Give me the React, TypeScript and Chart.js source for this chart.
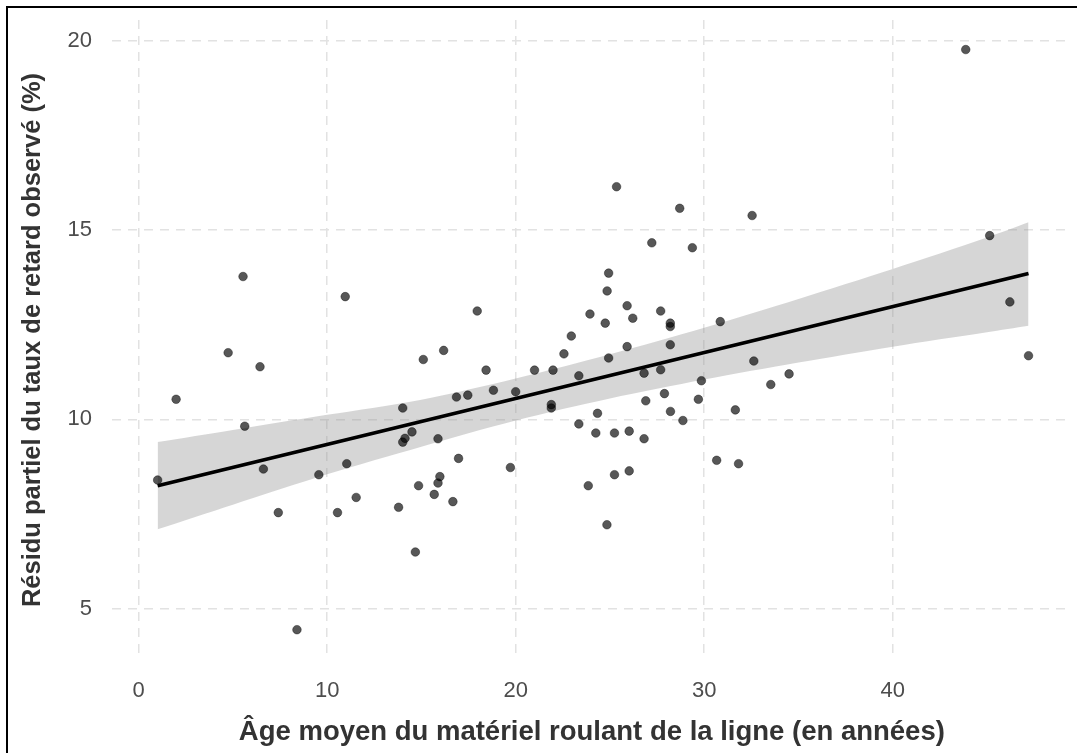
import React, { useEffect, useRef } from 'react';
import { Chart, registerables } from 'chart.js';

Chart.register(...registerables);

// Points: mean rolling-stock age (years) vs partial residual of delay rate (%)
const ageX = [
  1.01, 1.99, 4.75, 5.54, 5.63, 6.44, 6.62, 7.41, 8.4, 9.56,
  10.55, 10.96, 11.04, 11.54, 13.79, 14.01, 14.13, 14.01, 14.5, 14.68,
  14.85, 15.1, 15.68, 15.88, 15.98, 15.88, 16.18, 16.67, 16.86, 16.97,
  17.46, 17.96, 18.43, 18.82, 19.72, 20.0, 21.0, 21.89, 21.89, 21.98,
  22.56, 22.95, 23.35, 23.35, 23.85, 23.94, 24.25, 24.34, 24.75, 24.84,
  24.85, 24.93, 24.93, 25.24, 25.24, 25.35, 25.91, 25.91, 26.02, 26.02,
  26.21, 26.81, 26.81, 26.9, 27.22, 27.69, 27.69, 27.89, 28.2, 28.2,
  28.2, 28.21, 28.7, 28.87, 29.37, 29.69, 29.85, 30.66, 30.85, 31.65,
  31.82, 32.54, 32.63, 33.53, 34.5, 43.87, 45.14, 46.21, 47.2,
];
const residY = [
  8.4, 10.53, 11.76, 13.77, 9.82, 11.39, 8.69, 7.54, 4.45, 8.54,
  7.54, 13.24, 8.83, 7.94, 7.68, 10.3, 9.5, 9.4, 9.67, 6.5,
  8.25, 11.58, 8.02, 9.49, 8.49, 8.32, 11.82, 7.83, 10.59, 8.97,
  10.64, 12.86, 11.3, 10.77, 8.73, 10.73, 11.3, 10.39, 10.3, 11.3,
  11.73, 12.2, 11.15, 9.88, 8.25, 12.78, 9.64, 10.16, 12.54, 7.22,
  13.39, 13.86, 11.62, 9.64, 8.54, 16.14, 13.0, 11.92, 9.69, 8.64,
  12.67, 11.22, 9.49, 10.49, 14.66, 12.86, 11.31, 10.68, 12.54, 12.45,
  11.97, 10.21, 15.57, 9.97, 14.53, 10.53, 11.02, 8.92, 12.58, 10.25,
  8.83, 15.38, 11.54, 10.92, 11.2, 19.76, 14.85, 13.1, 11.68,
];

// Linear fit (read at both ends) and its confidence band
const fitX = [1.01, 47.2];
const fitY = [8.25, 13.85];
const bandX = [1.01, 5, 10, 15, 20, 25, 30, 35, 40, 45, 47.2];
const bandUpper = [9.4, 9.72, 10.12, 10.52, 11.08, 11.72, 12.42, 13.18, 13.97, 14.8, 15.2];
const bandLower = [7.1, 7.75, 8.55, 9.28, 9.97, 10.55, 11.05, 11.5, 11.92, 12.3, 12.47];

const xTicks = [0, 10, 20, 30, 40];
const yTicks = [5, 10, 15, 20];

const xTitle = 'Âge moyen du matériel roulant de la ligne (en années)';
const yTitle = 'Résidu partiel du taux de retard observé (%)';

const W = 1077;
const H = 753;
const FONT = "'Liberation Sans', Arial, Helvetica, sans-serif";

export default function App() {
  const ref = useRef<HTMLCanvasElement | null>(null);

  useEffect(() => {
    if (!ref.current) return;
    const pts = ageX.map((x, i) => ({ x, y: residY[i] }));
    const up = bandX.map((x, i) => ({ x, y: bandUpper[i] }));
    const lo = bandX.map((x, i) => ({ x, y: bandLower[i] }));
    const fit = fitX.map((x, i) => ({ x, y: fitY[i] }));

    const chart = new Chart(ref.current, {
      type: 'scatter',
      data: {
        datasets: [
          {
            type: 'line',
            data: up,
            borderWidth: 0,
            borderColor: 'rgba(0,0,0,0)',
            pointRadius: 0,
            fill: '+1',
            backgroundColor: 'rgba(153,153,153,0.4)',
            order: 4,
            tension: 0.3,
          },
          {
            type: 'line',
            data: lo,
            borderWidth: 0,
            borderColor: 'rgba(0,0,0,0)',
            pointRadius: 0,
            fill: false,
            order: 3,
            tension: 0.3,
          },
          {
            type: 'scatter',
            data: pts,
            pointRadius: 4.3,
            pointBackgroundColor: 'rgba(0,0,0,0.66)',
            pointBorderColor: 'rgba(0,0,0,0.4)',
            pointBorderWidth: 1,
            order: 2,
          },
          {
            type: 'line',
            data: fit,
            borderColor: '#000000',
            borderWidth: 3.6,
            pointRadius: 0,
            fill: false,
            order: 1,
          },
        ],
      },
      options: {
        animation: false,
        responsive: false,
        maintainAspectRatio: false,
        layout: { padding: { left: 10, right: 3, top: 20, bottom: 2 } },
        plugins: {
          legend: { display: false },
          tooltip: { enabled: false },
        },
        scales: {
          x: {
            type: 'linear',
            min: -1.41,
            max: 49.49,
            afterBuildTicks: (s: any) => {
              s.ticks = xTicks.map((v) => ({ value: v }));
            },
            afterFit: (s: any) => {
              s.height = 91;
              s.paddingLeft = 0;
              s.paddingRight = 0;
            },
            grid: { color: '#e2e2e2', lineWidth: 1.5, drawTicks: false },
            border: { display: false, dash: [9, 7] },
            ticks: {
              padding: 18,
              color: '#4d4d4d',
              font: { family: FONT, size: 22 },
              maxRotation: 0,
            },
            title: {
              display: true,
              text: xTitle,
              color: '#333333',
              font: { family: FONT, size: 27.5, weight: 'bold' },
              padding: { top: 0, bottom: 2 },
            },
          },
          y: {
            type: 'linear',
            min: 3.65,
            max: 20.54,
            afterBuildTicks: (s: any) => {
              s.ticks = yTicks.map((v) => ({ value: v }));
            },
            afterFit: (s: any) => {
              s.width = 102;
              s.paddingTop = 0;
              s.paddingBottom = 0;
            },
            grid: { color: '#e2e2e2', lineWidth: 1.5, drawTicks: false },
            border: { display: false, dash: [9, 7] },
            ticks: {
              padding: 20,
              color: '#4d4d4d',
              font: { family: FONT, size: 22 },
            },
            title: {
              display: true,
              text: yTitle,
              color: '#333333',
              font: { family: FONT, size: 25.5, weight: 'bold' },
              padding: { top: 8, bottom: 0 },
            },
          },
        },
      },
    });
    return () => chart.destroy();
  }, []);

  return (
    <div
      style={{
        position: 'fixed',
        left: 0,
        top: 0,
        width: W,
        height: H,
        background: '#ffffff',
        overflow: 'hidden',
      }}
    >
      <canvas ref={ref} width={W} height={H} style={{ width: W, height: H, display: 'block' }} />
      <div
        style={{
          position: 'absolute',
          left: 6,
          top: 6,
          width: W,
          height: H,
          borderTop: '2px solid #000',
          borderLeft: '2px solid #000',
          pointerEvents: 'none',
        }}
      />
    </div>
  );
}
